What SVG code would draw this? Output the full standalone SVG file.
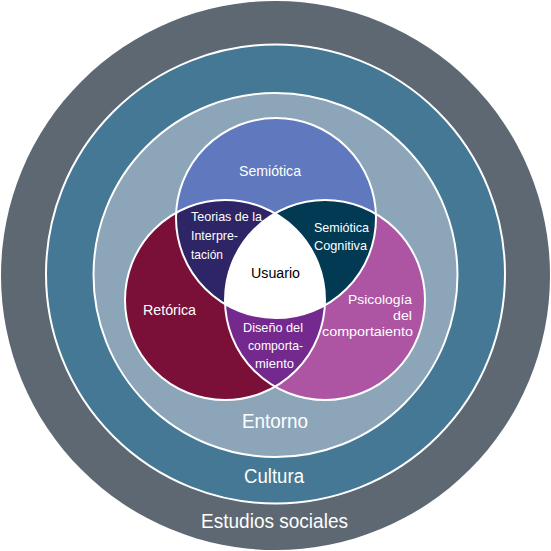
<svg xmlns="http://www.w3.org/2000/svg" width="551" height="551" viewBox="0 0 551 551">
<style>
.lbl{font-family:"Liberation Sans",Arial,sans-serif;fill:#ffffff}
.ring{stroke:#ffffff;stroke-width:2}
.edge{fill:none;stroke:#ffffff;stroke-width:2}
</style>
<defs>
<clipPath id="clipTop"><circle cx="276" cy="218" r="100"/></clipPath>
<clipPath id="clipLeft"><circle cx="225" cy="300" r="100"/></clipPath>
</defs>
<rect width="551" height="551" fill="#ffffff"/>
<g id="estudios-sociales">
<circle cx="275.5" cy="275.5" r="274.5" fill="#5d6873"/>
<text class="lbl" x="274.5" y="528" font-size="20" text-anchor="middle" textLength="147" lengthAdjust="spacingAndGlyphs">Estudios sociales</text>
</g>
<g id="cultura">
<circle class="ring" cx="275.5" cy="274" r="229.5" fill="#447894"/>
<text class="lbl" x="274" y="483" font-size="20" text-anchor="middle" textLength="60" lengthAdjust="spacingAndGlyphs">Cultura</text>
</g>
<g id="entorno">
<circle class="ring" cx="275.5" cy="275" r="182" fill="#8da5b9"/>
<text class="lbl" x="275" y="428" font-size="20" text-anchor="middle" textLength="66" lengthAdjust="spacingAndGlyphs">Entorno</text>
</g>
<g id="semiotica">
<circle cx="276" cy="218" r="100" fill="#5f78be"/>
</g>
<g id="retorica">
<circle cx="225" cy="300" r="100" fill="#7a1038"/>
</g>
<g id="psicologia">
<circle cx="325" cy="300" r="100" fill="#ad54a3"/>
</g>
<g id="teorias">
<circle cx="225" cy="300" r="100" fill="#2e2566" clip-path="url(#clipTop)"/>
</g>
<g id="semiotica-cognitiva">
<circle cx="325" cy="300" r="100" fill="#033a53" clip-path="url(#clipTop)"/>
</g>
<g id="diseno">
<circle cx="325" cy="300" r="100" fill="#73298e" clip-path="url(#clipLeft)"/>
</g>
<g id="usuario">
<g clip-path="url(#clipTop)"><circle cx="325" cy="300" r="100" fill="#ffffff" clip-path="url(#clipLeft)"/></g>
</g>
<g id="outlines">
<circle class="edge" cx="276" cy="218" r="100"/>
<circle class="edge" cx="225" cy="300" r="100"/>
<circle class="edge" cx="325" cy="300" r="100"/>
</g>
<g id="connectors"/>
<g id="labels">
<text class="lbl" x="270" y="176" font-size="15" text-anchor="middle" textLength="62" lengthAdjust="spacingAndGlyphs">Semiótica</text>
<text class="lbl" x="191" y="221" font-size="13" textLength="71" lengthAdjust="spacingAndGlyphs">Teorias de la</text>
<text class="lbl" x="191" y="240" font-size="13" textLength="47" lengthAdjust="spacingAndGlyphs">Interpre-</text>
<text class="lbl" x="191" y="259" font-size="13" textLength="32" lengthAdjust="spacingAndGlyphs">tación</text>
<text class="lbl" x="314" y="232" font-size="13" textLength="55" lengthAdjust="spacingAndGlyphs">Semiótica</text>
<text class="lbl" x="314" y="250" font-size="13" textLength="53" lengthAdjust="spacingAndGlyphs">Cognitiva</text>
<text class="lbl" x="275.5" y="278" font-size="15.5" text-anchor="middle" textLength="49" lengthAdjust="spacingAndGlyphs" style="fill:#000000">Usuario</text>
<text class="lbl" x="169.5" y="315" font-size="15" text-anchor="middle" textLength="53" lengthAdjust="spacingAndGlyphs">Retórica</text>
<text class="lbl" x="412" y="304" font-size="13.5" text-anchor="end" textLength="64" lengthAdjust="spacingAndGlyphs">Psicología</text>
<text class="lbl" x="412" y="320" font-size="13.5" text-anchor="end" textLength="19" lengthAdjust="spacingAndGlyphs">del</text>
<text class="lbl" x="413" y="336" font-size="13.5" text-anchor="end" textLength="91" lengthAdjust="spacingAndGlyphs">comportaiento</text>
<text class="lbl" x="273" y="332" font-size="13.5" text-anchor="middle" textLength="60" lengthAdjust="spacingAndGlyphs">Diseño del</text>
<text class="lbl" x="275.5" y="350" font-size="13.5" text-anchor="middle" textLength="55" lengthAdjust="spacingAndGlyphs">comporta-</text>
<text class="lbl" x="274.5" y="368" font-size="13.5" text-anchor="middle" textLength="39" lengthAdjust="spacingAndGlyphs">miento</text>
</g>
</svg>
